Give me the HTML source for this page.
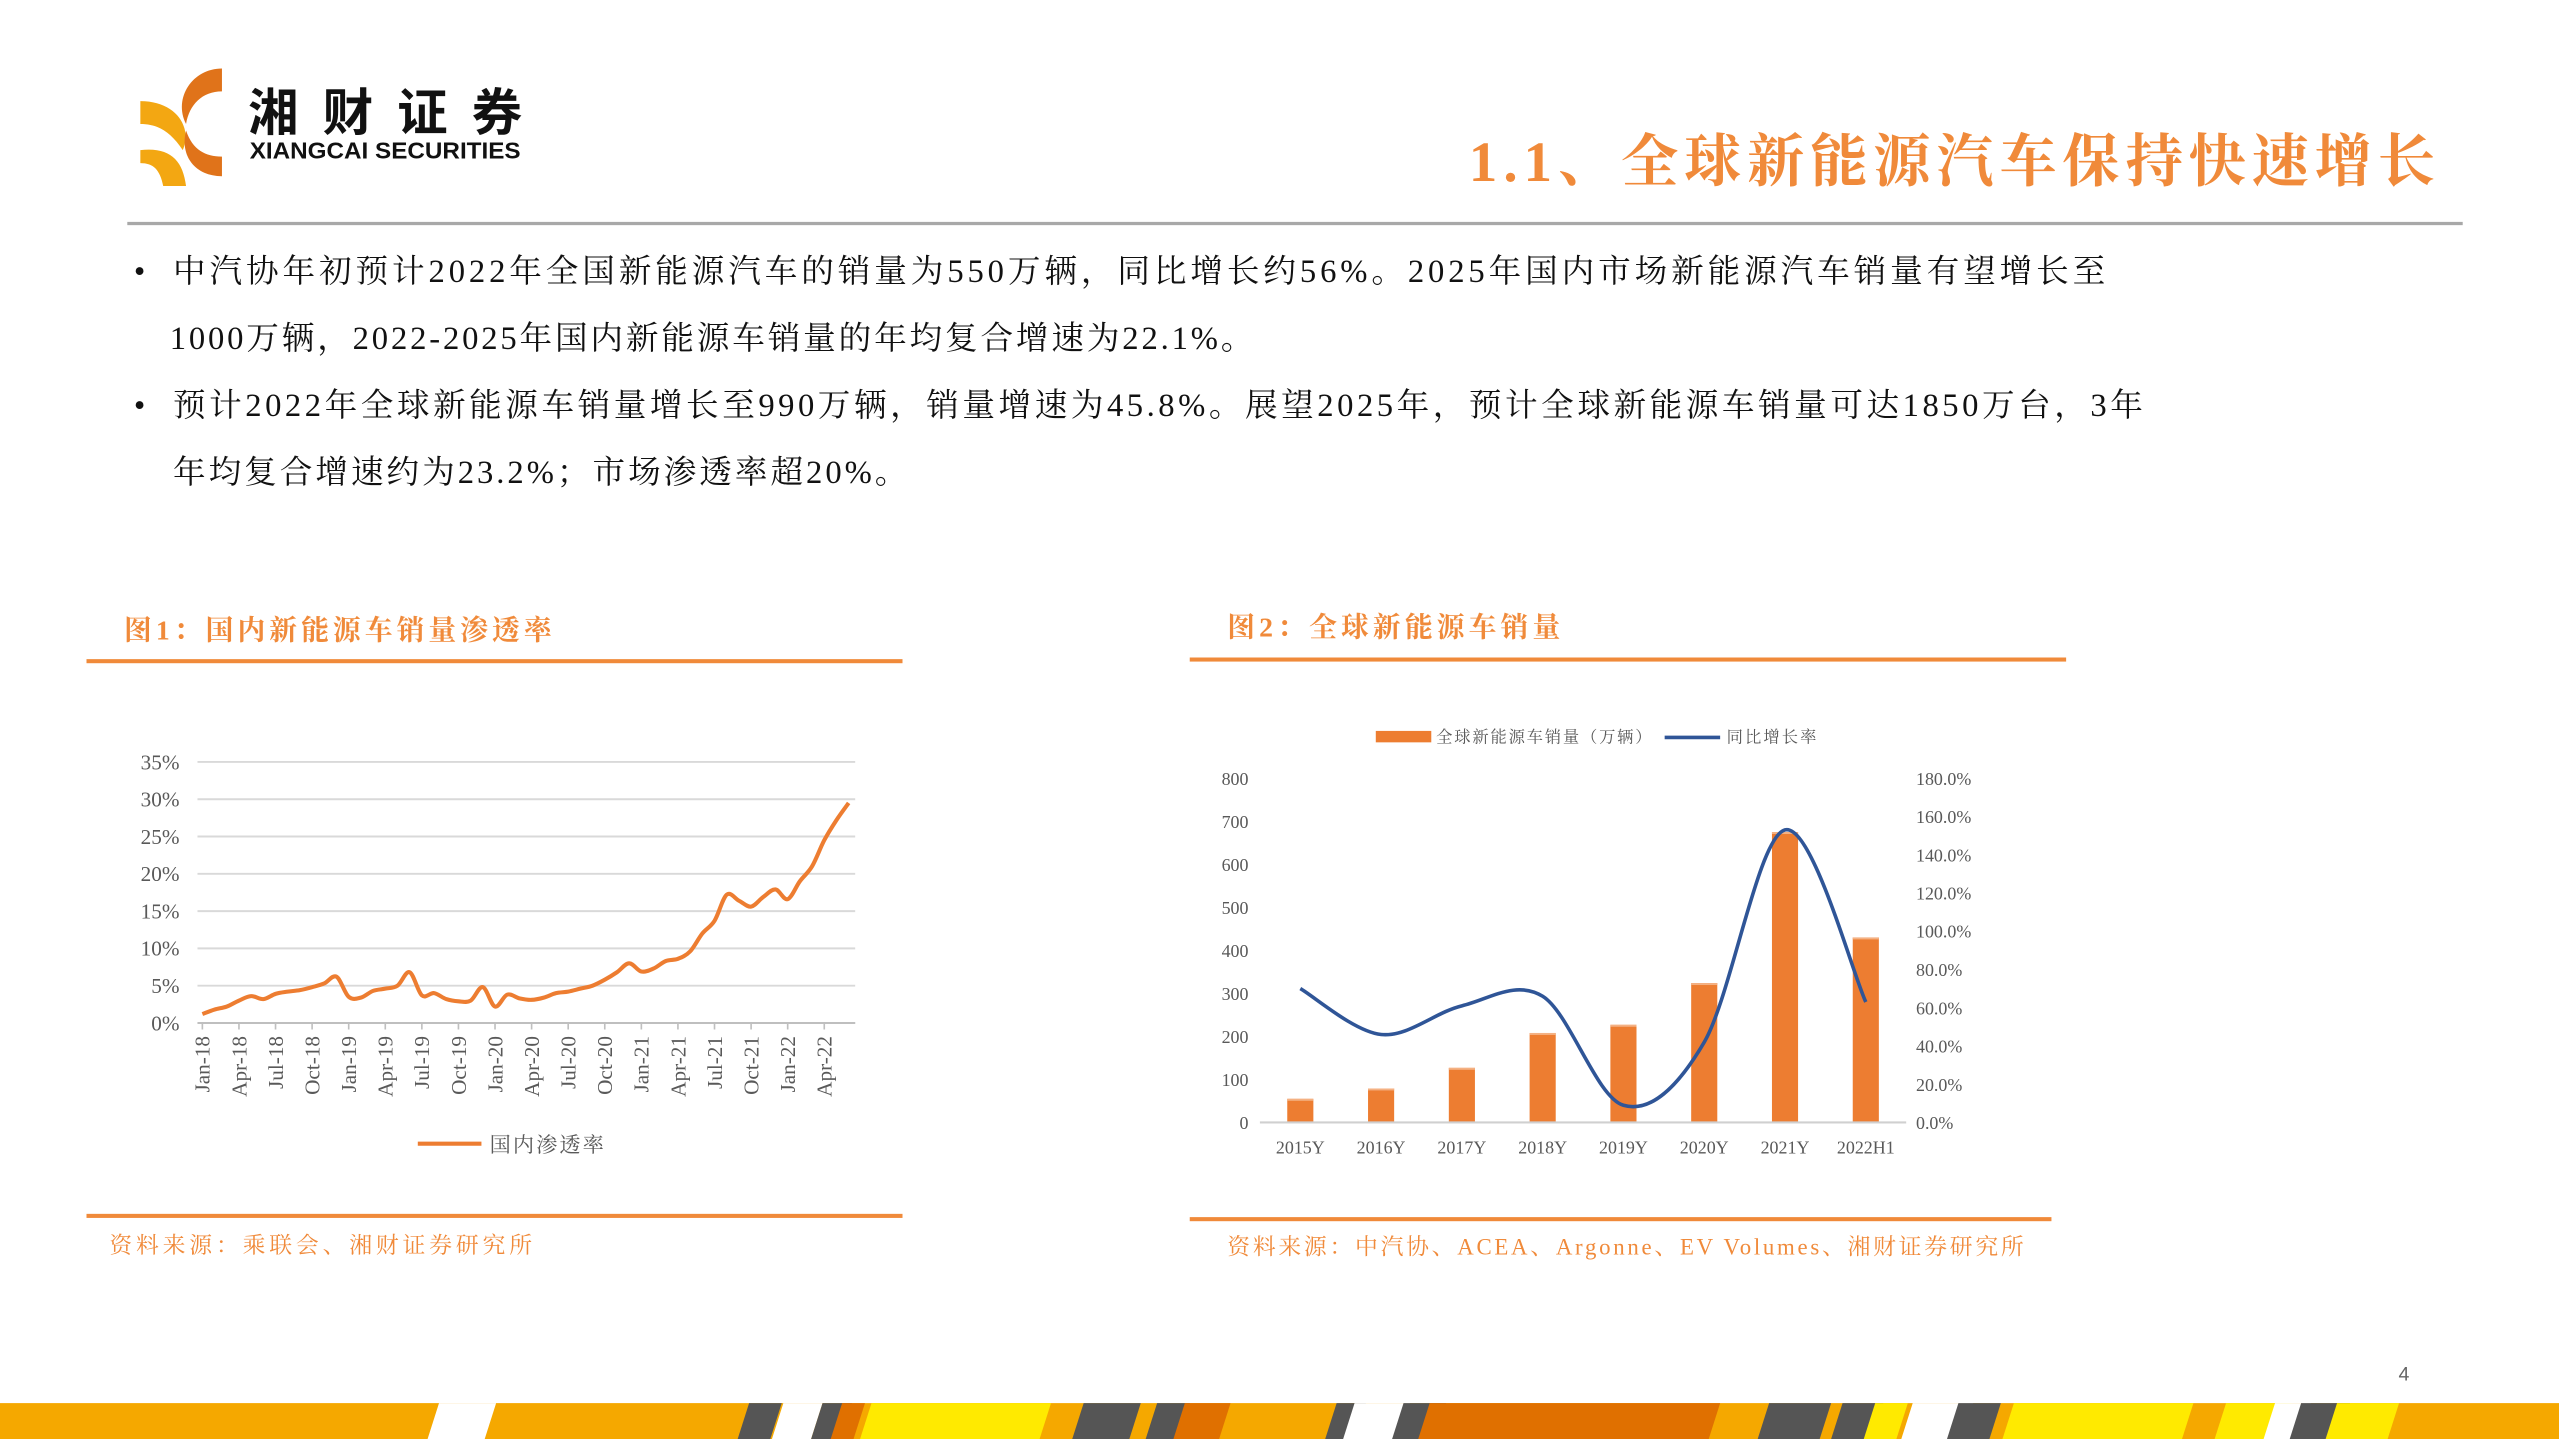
<!DOCTYPE html>
<html><head><meta charset="utf-8"><style>
html,body{margin:0;padding:0;background:#fff;overflow:hidden}
svg{display:block}
.serif{font-family:"Liberation Serif","Noto Serif CJK SC",serif}
.sans{font-family:"Liberation Sans","Noto Sans CJK SC",sans-serif}
</style></head><body>
<svg id="page" width="2559" height="1439" viewBox="0 0 1568 882" preserveAspectRatio="none" xmlns="http://www.w3.org/2000/svg">
<g>
  <path d="M86 62 C108 62 118 78 112 92 C104 80 96 76 86 76 Z" fill="#F3A712"/>
  <path d="M86 92 C104 90 112 98 114 114 L100 114 C98 104 94 100 86 100 Z" fill="#F3A712"/>
  <path d="M136 42 L136 56 C124 56 116 64 114 76 C106 60 118 42 136 42 Z" fill="#E0731A"/>
  <path d="M114 80 C118 92 126 96 136 96 L136 108 C120 108 110 96 114 80 Z" fill="#E0731A"/>
  <text x="152" y="80" class="sans" font-size="31" font-weight="bold" fill="#111" textLength="168" lengthAdjust="spacing">湘财证券</text>
  <text x="153" y="97" class="sans" font-size="14" font-weight="bold" fill="#111" textLength="166" lengthAdjust="spacingAndGlyphs">XIANGCAI SECURITIES</text>
</g>
<text x="900" y="111" class="serif" font-size="35" font-weight="bold" fill="#F08A3A" textLength="592" lengthAdjust="spacing">1.1、全球新能源汽车保持快速增长</text>
<rect x="78" y="136" width="1431" height="2" fill="#A8A8A8"/>
<g class="serif" font-size="20" fill="#111">
  <text x="82" y="173">•</text>
  <text x="106" y="173" textLength="1184" lengthAdjust="spacing">中汽协年初预计2022年全国新能源汽车的销量为550万辆，同比增长约56%。2025年国内市场新能源汽车销量有望增长至</text>
  <text x="104" y="214" textLength="664" lengthAdjust="spacing">1000万辆，2022-2025年国内新能源车销量的年均复合增速为22.1%。</text>
  <text x="82" y="255">•</text>
  <text x="106" y="255" textLength="1207" lengthAdjust="spacing">预计2022年全球新能源车销量增长至990万辆，销量增速为45.8%。展望2025年，预计全球新能源车销量可达1850万台，3年</text>
  <text x="106" y="296" textLength="450" lengthAdjust="spacing">年均复合增速约为23.2%；市场渗透率超20%。</text>
</g>
<text x="76" y="392" class="serif" font-size="17" font-weight="bold" fill="#F08A3A" textLength="262" lengthAdjust="spacing">图1：国内新能源车销量渗透率</text>
<rect x="53" y="404" width="500" height="2.5" fill="#F08A3A"/>
<rect x="53" y="744" width="500" height="2.5" fill="#F08A3A"/>
<text x="67" y="768" class="serif" font-size="14" fill="#F08A3A" textLength="259" lengthAdjust="spacing">资料来源：乘联会、湘财证券研究所</text>
<text x="752" y="390" class="serif" font-size="17" font-weight="bold" fill="#F08A3A" textLength="204" lengthAdjust="spacing">图2：全球新能源车销量</text>
<rect x="729" y="403" width="537" height="2.5" fill="#F08A3A"/>
<rect x="729" y="746" width="528" height="2.5" fill="#F08A3A"/>
<text x="752" y="769" class="serif" font-size="14" fill="#F08A3A" textLength="488" lengthAdjust="spacing">资料来源：中汽协、ACEA、Argonne、EV Volumes、湘财证券研究所</text>
<g id="chart1"></g>
<g id="chart2"></g>
<text x="1473" y="846" text-anchor="middle" class="sans" font-size="12" fill="#666">4</text>
<g id="stripe"></g>
</svg>
<script>
var NS="http://www.w3.org/2000/svg";
function mk(tag,attrs,parent,txt){var e=document.createElementNS(NS,tag);for(var k in attrs)e.setAttribute(k,attrs[k]);if(txt!==undefined)e.textContent=txt;parent.appendChild(e);return e;}

// ---- Chart 1 data ----
var penMonths=54;
var penValues=[1.2,1.8,2.2,3.0,3.6,3.2,3.9,4.2,4.4,4.8,5.3,6.2,
3.5,3.4,4.3,4.6,5.0,6.8,3.7,4.0,3.2,2.9,3.0,4.8,
2.2,3.8,3.3,3.1,3.4,4.0,4.2,4.6,5.0,5.8,6.8,8.0,
6.9,7.3,8.3,8.6,9.6,12.0,13.7,17.2,16.4,15.6,16.9,17.9,
16.6,19.0,21.0,24.5,27.2,29.5];
var penTickLabels=["Jan-18","Apr-18","Jul-18","Oct-18","Jan-19","Apr-19","Jul-19","Oct-19","Jan-20","Apr-20","Jul-20","Oct-20","Jan-21","Apr-21","Jul-21","Oct-21","Jan-22","Apr-22"];
var penYTicks=[0,5,10,15,20,25,30,35];

// ---- Chart 2 data ----
var salesCategories=["2015Y","2016Y","2017Y","2018Y","2019Y","2020Y","2021Y","2022H1"];
var salesValues=[55,79,127,208,227,324,675,430];
var growthValues=[70,46,61,66,9,42,153,63];
var salesTicks=[0,100,200,300,400,500,600,700,800];
var growthTicks=[0,20,40,60,80,100,120,140,160,180];

function smooth(pts){
  var d='M'+pts[0][0]+','+pts[0][1];
  for(var i=0;i<pts.length-1;i++){
    var p0=pts[i-1]||pts[i],p1=pts[i],p2=pts[i+1],p3=pts[i+2]||p2;
    var c1x=p1[0]+(p2[0]-p0[0])/6,c1y=p1[1]+(p2[1]-p0[1])/6;
    var c2x=p2[0]-(p3[0]-p1[0])/6,c2y=p2[1]-(p3[1]-p1[1])/6;
    d+=' C'+c1x+','+c1y+' '+c2x+','+c2y+' '+p2[0]+','+p2[1];
  }
  return d;
}

(function(){
var g=document.getElementById('chart1');
var x0=124,x1=520,y0=627,y1=467;
function X(i){return x0+(x1-x0)*i/(penMonths-1);}
function Y(v){return y0-(y0-y1)*v/35;}
penYTicks.forEach(function(t){
  var l=mk('line',{x1:121,x2:524,y1:Y(t),y2:Y(t),stroke:'#d9d9d9','stroke-width':1.2},g);
  
  
  var tx=mk('text',{x:110,y:Y(t)+4.5,'text-anchor':'end','font-size':13,fill:'#595959','class':'serif'},g,t+'%');
  
  
});
var ax=mk('line',{x1:121,x2:524,y1:y0,y2:y0,stroke:'#bfbfbf','stroke-width':1.2},g);


penTickLabels.forEach(function(lb,k){
  var i=k*3, x=X(i);
  mk('line',{x1:x,x2:x,y1:y0,y2:y0+4,stroke:'#bfbfbf'},g);
  var t=mk('text',{x:0,y:0,'text-anchor':'end','font-size':13,fill:'#595959','class':'serif',transform:'translate('+(x+4.5)+','+(y0+8)+') rotate(-90)'},g,lb);
  
  
});
var pts=penValues.map(function(v,i){return [X(i),Y(v)];});
var p=mk('path',{d:smooth(pts),fill:'none',stroke:'#ED7D31','stroke-width':2.5,'stroke-linejoin':'round'},g);


var ll=mk('line',{x1:256,x2:295,y1:701,y2:701,stroke:'#ED7D31','stroke-width':2.5},g);


var lt=mk('text',{x:300,y:706,'font-size':13,fill:'#595959','class':'serif',textLength:70,lengthAdjust:'spacing'},g,'国内渗透率');


})();

(function(){
var g=document.getElementById('chart2');
var px0=772,px1=1168,y0=688,y1=477;
var step=(px1-px0)/salesCategories.length;
function X(i){return px0+step*(i+0.5);}
function YL(v){return y0-(y0-y1)*v/800;}
function YR(v){return y0-(y0-y1)*v/180;}
salesTicks.forEach(function(t){
  var tx=mk('text',{x:765,y:YL(t)+4,'text-anchor':'end','font-size':11,fill:'#595959','class':'serif'},g,String(t));
  
  
});
growthTicks.forEach(function(t){
  var tx=mk('text',{x:1174,y:YR(t)+4,'font-size':11,fill:'#595959','class':'serif'},g,t.toFixed(1)+'%');
  
  
});
salesValues.forEach(function(v,i){
  var r=mk('rect',{x:X(i)-8,y:YL(v),width:16,height:y0-YL(v),fill:'#ED7D31'},g);
  
  
  mk('rect',{x:X(i)-8,y:YL(v),width:16,height:1.2,fill:'#F4B183'},g);
  var t=mk('text',{x:X(i),y:707,'text-anchor':'middle','font-size':11,fill:'#595959','class':'serif'},g,salesCategories[i]);
  
  
});
var ax=mk('line',{x1:772,x2:1168,y1:y0,y2:y0,stroke:'#d0d0d0','stroke-width':1.3},g);


var pts=growthValues.map(function(v,i){return [X(i),YR(v)];});
var p=mk('path',{d:smooth(pts),fill:'none',stroke:'#2F5597','stroke-width':2.2},g);


var s1=mk('rect',{x:843,y:448,width:34,height:7,fill:'#ED7D31'},g);


var l1=mk('text',{x:880,y:455,'font-size':10,fill:'#595959','class':'serif',textLength:132,lengthAdjust:'spacing'},g,'全球新能源车销量（万辆）');


var s2=mk('line',{x1:1020,x2:1054,y1:452,y2:452,stroke:'#2F5597','stroke-width':2.2},g);


var l2=mk('text',{x:1058,y:455,'font-size':10,fill:'#595959','class':'serif',textLength:55,lengthAdjust:'spacing'},g,'同比增长率');


})();

(function(){
var g=document.getElementById('stripe');
mk('rect',{x:0,y:860,width:1568,height:22,fill:'#F5A800'},g);
var bands=[[265,300,'#fff'],[455,475,'#555'],[476,500,'#fff'],[500,518,'#555'],[512,526,'#E07000'],[530,640,'#FFEA00'],[660,695,'#555'],[705,725,'#555'],[722,750,'#E07000'],[815,833,'#555'],[826,860,'#fff'],[856,882,'#555'],[872,1050,'#E07000'],[1080,1118,'#555'],[1125,1150,'#555'],[1145,1165,'#FFEA00'],[1168,1205,'#fff'],[1196,1222,'#555'],[1230,1340,'#FFEA00'],[1360,1400,'#FFEA00'],[1390,1412,'#fff'],[1406,1436,'#555'],[1428,1466,'#FFEA00']];
bands.forEach(function(b){
  mk('polygon',{points:(b[0]+4)+',860 '+(b[1]+4)+',860 '+(b[1]-3)+',882 '+(b[0]-3)+',882',fill:b[2]},g);
});
})();
</script>
</body></html>
